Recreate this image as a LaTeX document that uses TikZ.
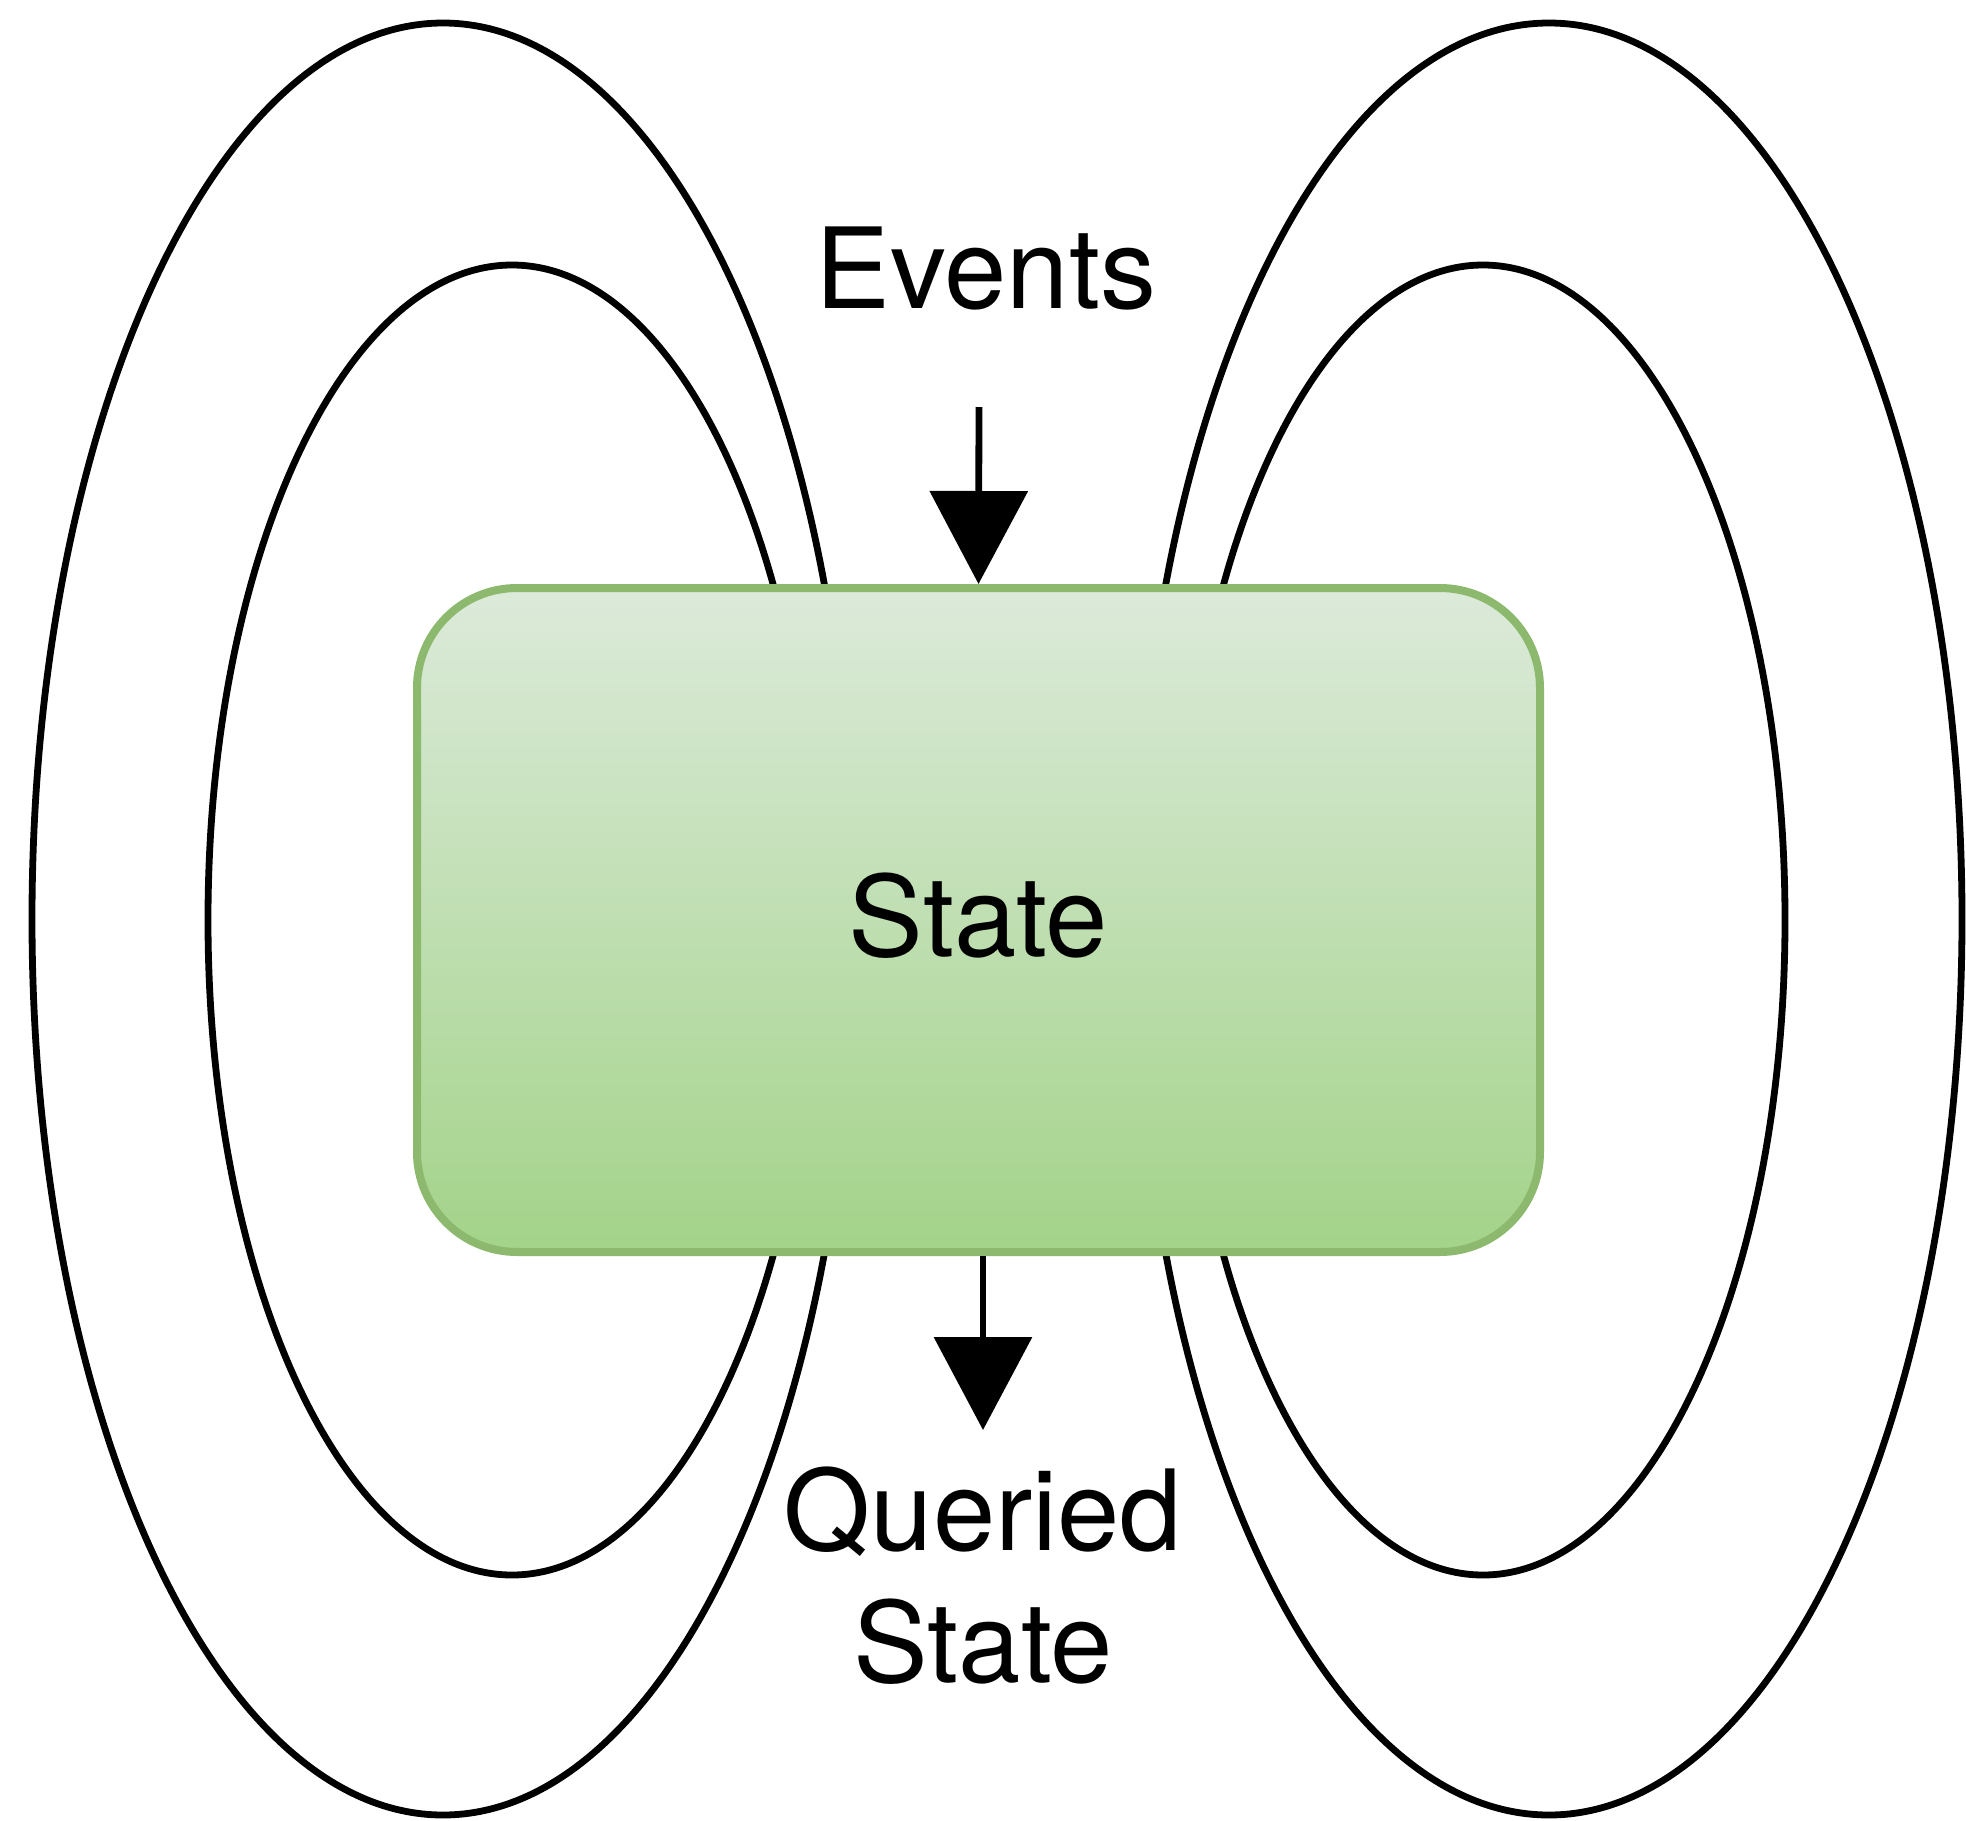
\documentclass[tikz,border=0pt]{standalone}
\usepackage{fontspec}
\setmainfont{TeX Gyre Heros}
\usetikzlibrary{arrows.meta}
\definecolor{boxtop}{RGB}{220,234,218}
\definecolor{boxbot}{RGB}{163,211,137}
\definecolor{boxline}{RGB}{140,185,110}
\begin{document}
\begin{tikzpicture}[x=0.5pt,y=-0.5pt,
  ring/.style={draw=black,line width=3.4pt},
  statebox/.style={rectangle,rounded corners=50pt,draw=boxline,line width=4pt,
    top color=boxtop,bottom color=boxbot,minimum width=561.5pt,minimum height=332pt,inner sep=0pt},
  lbl/.style={font=\fontsize{56pt}{66pt}\selectfont,inner sep=0pt},
  flow/.style={line width=3.4pt,-{Triangle[length=46.5pt,width=48.5pt]}}]
\useasboundingbox (0,0) rectangle (1966,1821);
% field rings on both sides
\draw[ring] (443,919) ellipse [x radius=205.5pt,y radius=448pt];
\draw[ring] (512,920) ellipse [x radius=152pt,y radius=327.5pt];
\draw[ring] (1549,919) ellipse [x radius=206.5pt,y radius=448pt];
\draw[ring] (1483,920) ellipse [x radius=151pt,y radius=327.5pt];
% central state box
\node[statebox,lbl,text depth=5pt] (state) at (978.5,920) {State};
% incoming events
\node[lbl,anchor=base] (events) at (986,308) {Events};
\coordinate (evstart) at (979,407);
\draw[flow] (evstart) -- (state.north);
% outgoing queried state (base anchor sits on the last line)
\coordinate (qtip) at (983,1430);
\draw[flow] (state.south -| qtip) -- (qtip);
\node[lbl,anchor=base,align=center] (queried) at (983,1682) {Queried\\State};
\end{tikzpicture}
\end{document}
